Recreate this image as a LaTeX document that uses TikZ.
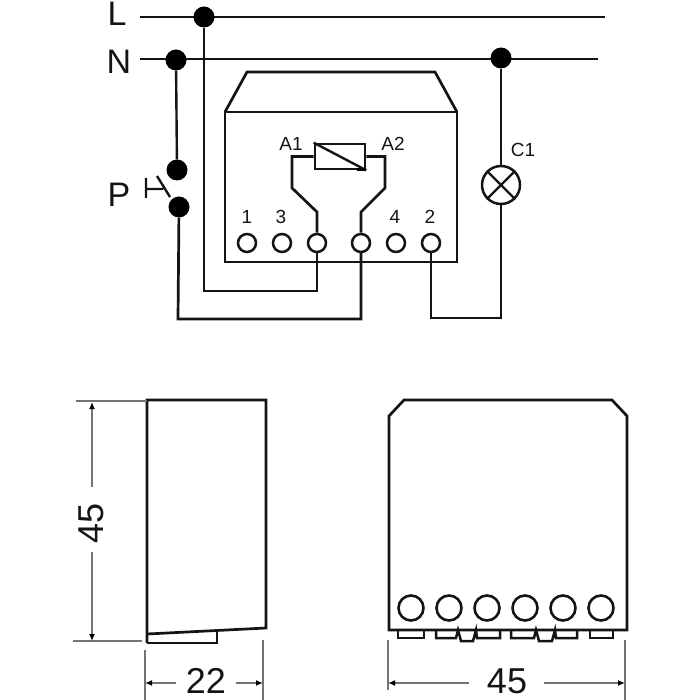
\documentclass[tikz,border=0pt]{standalone}
\usepackage{fontspec}
\setmainfont{Liberation Sans}
\usetikzlibrary{arrows.meta}
\definecolor{ink}{gray}{0.08}
\definecolor{dim}{gray}{0.45}
\tikzset{
  wire/.style={draw=ink,line width=2.7pt,line join=miter},
  thin wire/.style={draw=ink,line width=2.4pt},
  dimline/.style={draw=dim,line width=1.4pt},
  dimarrow/.style={draw=dim,line width=1.4pt,-{Latex[length=7pt,width=6pt,black]}},
  dot/.style={circle,fill=black,draw=none,minimum size=21pt,inner sep=0pt},
  term/.style={circle,draw=ink,fill=white,line width=2.5pt,minimum size=18pt,inner sep=0pt},
  bigterm/.style={circle,draw=ink,fill=white,line width=2.6pt,minimum size=25pt,inner sep=0pt},
  small/.style={inner sep=0pt,text=ink,font=\fontsize{19}{19}\selectfont},
  big/.style={inner sep=0pt,text=ink,font=\fontsize{34}{34}\selectfont},
  dimtext/.style={inner sep=0pt,text=ink,font=\fontsize{36}{36}\selectfont}
}
\begin{document}
\begin{tikzpicture}[x=1pt,y=-1pt]
\useasboundingbox (0,0) rectangle (700,700);
% named points
\coordinate (Ls) at (140,17); \coordinate (Le) at (605,17);
\coordinate (Ns) at (140,59); \coordinate (Ne) at (598,59);
% connectors first, so that dots and terminals sit on top
\draw[thin wire] (Ls) -- (Le);
\draw[thin wire] (Ns) -- (Ne);
% relay housing
\draw[wire] (225,262) -- (225,112) -- (457,112) -- (457,262) -- cycle;
\draw[wire] (225,112) -- (247,72) -- (435,72) -- (457,112);
% dots and terminals
\node[dot] (dL) at (204,17) {};
\node[dot] (dN) at (176,60) {};
\node[dot] (dC) at (501,58) {};
\node[dot] (p1) at (177,170) {};
\node[dot] (p2) at (179,207) {};
\coordinate (tApos) at (317,243);
\coordinate (tBpos) at (361,243);
\coordinate (t2pos) at (431,243);
\draw[wire] (dL) -- (204,291) -- (317,291) -- (tApos);
\draw[thin wire] (dN) -- (p1);
\draw[wire] (p2) -- (178,319) -- (361,319) -- (tBpos);
\draw[wire] (dC) -- (501,318) -- (431,318) -- (t2pos);
\node[term] (t1) at (247,243) {};
\node[term] (t3) at (282,243) {};
\node[term] (tA) at (tApos) {};
\node[term] (tB) at (tBpos) {};
\node[term] (t4) at (396,243) {};
\node[term] (t2) at (t2pos) {};
\node[circle,draw=ink,fill=white,line width=2.5pt,minimum size=38pt,inner sep=0pt] (lamp) at (501,185) {};
\draw[line width=2.2pt,draw=ink] (lamp.north west) -- (lamp.south east) (lamp.north east) -- (lamp.south west);
\node[draw=ink,fill=white,line width=2.6pt,minimum width=50pt,minimum height=25pt,inner sep=0pt] (coil) at (340,156.5) {};
\draw[line width=2.4pt,draw=ink] (coil.north west) -- (coil.south east);
\fill[black] (coil.south east) ++(-9,-2) rectangle ++(9,3);
\draw[wire] (coil.west) -- (292,156.5) -- (292,188) -- (317,212) -- (tA.north);
\draw[wire] (coil.east) -- (385,156.5) -- (385,188) -- (361,212) -- (tB.north);
% switch
\draw[thin wire] (146,178) -- (146,198) (146,189) -- (163,189) (157,176) -- (170,197);
% labels
\node[big] (lL) at (117,14) {L};
\node[big] (lN) at (119,62) {N};
\node[big] (lP) at (119,195) {P};
\node[small] (a1) at (291,144) {A1};
\node[small] (a2) at (393,144) {A2};
\node[small] (c1) at (523,150) {C1};
\node[small] (n1) at (247,217) {1};
\node[small] (n3) at (281,217) {3};
\node[small] (n4) at (395,217) {4};
\node[small] (n2) at (430,217) {2};
% side view
\draw[wire] (147,643) -- (147,400) -- (266,400) -- (266,628) -- (147,634);
\draw[wire] (147,643) -- (217,643) -- (217,631);
% front view
\draw[wire] (389,416) -- (404,400) -- (612,400) -- (627,416) -- (627,630) -- (389,630) -- cycle;
\foreach \i/\x in {a/411,b/449,c/487,d/525,e/563,f/601}
  \node[bigterm] (f\i) at (\x,608) {};
\foreach \a/\b in {398/424,590/613}
  \draw[line width=2.5pt,draw=ink] (\a,630) -- (\a,638) -- (\b,638) -- (\b,630);
\draw[line width=2.5pt,draw=ink] (436,630) -- (436,638) -- (456,638) -- (458,630) -- (461,641) -- (473,641) -- (476,630) -- (477,638) -- (500,638) -- (500,630);
\draw[line width=2.5pt,draw=ink] (511,630) -- (511,638) -- (534,638) -- (536,630) -- (539,641) -- (552,641) -- (555,630) -- (556,638) -- (577,638) -- (577,630);
% dimension 45 vertical
\draw[dimline] (76,401) -- (147,401);
\draw[dimline] (73,641) -- (142,641);
\node[dimtext,rotate=90] (dv) at (91,523) {45};
\coordinate (vT) at (92,402); \coordinate (vB) at (92,641);
\draw[dimarrow] (92,487) -- (vT);
\draw[dimarrow] (92,552) -- (vB);
% dimension 22
\draw[dimline] (145,650) -- (145,700);
\draw[dimline] (263,640) -- (263,700);
\node[dimtext] (d22) at (206,681) {22};
\draw[dimarrow] (176,683) -- (145,683);
\draw[dimarrow] (236,683) -- (263,683);
% dimension 45 horizontal
\draw[dimline] (388,640) -- (388,690);
\draw[dimline] (625,640) -- (625,700);
\node[dimtext] (d45) at (507,681) {45};
\draw[dimarrow] (469,683) -- (388,683);
\draw[dimarrow] (544,683) -- (625,683);
\end{tikzpicture}
\end{document}
